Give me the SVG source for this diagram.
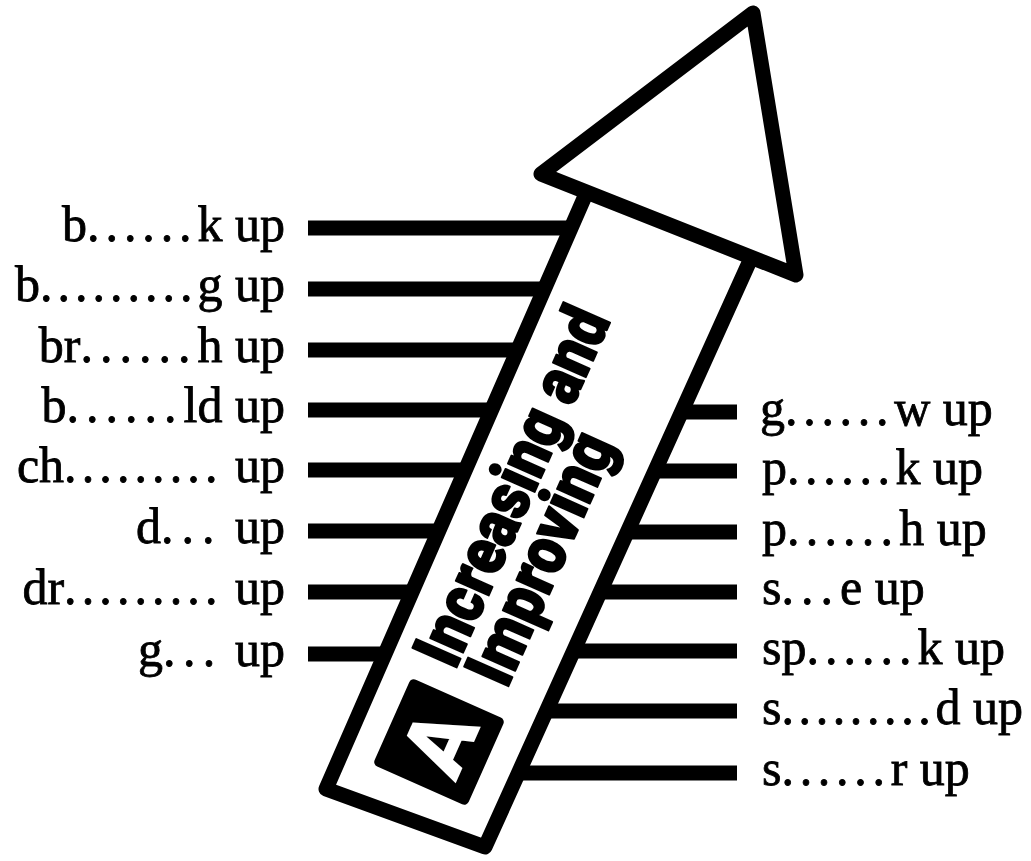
<svg xmlns="http://www.w3.org/2000/svg" width="1031" height="861" viewBox="0 0 1031 861">
<style>
.ln{stroke:#000;stroke-width:15;fill:none;stroke-linecap:butt}
.lbl{font-family:"Liberation Serif","Times New Roman",serif;font-size:50px;fill:#000;stroke:#000;stroke-width:0.8}
.big{font-family:Roboto,"Liberation Sans",Arial,sans-serif;font-weight:900;font-size:68px;fill:#000;stroke:#000;stroke-width:2;stroke-linejoin:round}
.outline{fill:#fff;stroke:#000;stroke-width:15;stroke-linejoin:round}
</style>
<rect width="1031" height="861" fill="#fff"/>
<g id="connectors">
<line class="ln" x1="308" y1="228" x2="585" y2="228"/>
<line class="ln" x1="308" y1="289" x2="558" y2="289"/>
<line class="ln" x1="308" y1="350" x2="531" y2="350"/>
<line class="ln" x1="308" y1="410" x2="505" y2="410"/>
<line class="ln" x1="308" y1="470" x2="479" y2="470"/>
<line class="ln" x1="308" y1="531" x2="453" y2="531"/>
<line class="ln" x1="308" y1="592" x2="427" y2="592"/>
<line class="ln" x1="308" y1="654" x2="400" y2="654"/>
<line class="ln" x1="670" y1="412" x2="737" y2="412"/>
<line class="ln" x1="643" y1="471" x2="737" y2="471"/>
<line class="ln" x1="616" y1="532" x2="737" y2="532"/>
<line class="ln" x1="589" y1="592" x2="737" y2="592"/>
<line class="ln" x1="562" y1="651" x2="737" y2="651"/>
<line class="ln" x1="535" y1="711" x2="737" y2="711"/>
<line class="ln" x1="507" y1="773" x2="737" y2="773"/>
</g>
<g id="arrow">
<polygon class="outline" points="592,180 326,789 485,847 757,245"/>
<g id="title" transform="translate(455,671) rotate(-66)">
<text class="big" x="0" y="0" textLength="384" lengthAdjust="spacingAndGlyphs">Increasing and</text>
<text class="big" x="4" y="55" textLength="268" lengthAdjust="spacingAndGlyphs">Improving</text>
</g>
<g id="badge" transform="translate(439,742) rotate(-66)">
<rect x="-47.5" y="-51.5" width="95" height="103" rx="5" fill="#000"/>
<text x="0" y="32" text-anchor="middle" font-family="Roboto,'Liberation Sans',Arial,sans-serif" font-weight="900" font-size="90" fill="#fff">A</text>
</g>
<polygon class="outline" points="541,174 753,13 796,275"/>
</g>
<g id="label-break"><text class="lbl" x="285" y="241" text-anchor="end">b<tspan letter-spacing="5.9">......</tspan>k up</text></g>
<g id="label-bring"><text class="lbl" x="285" y="301" text-anchor="end">b<tspan letter-spacing="5">.........</tspan>g up</text></g>
<g id="label-brush"><text class="lbl" x="285" y="362" text-anchor="end">br<tspan letter-spacing="7">......</tspan>h up</text></g>
<g id="label-build"><text class="lbl" x="285" y="422" text-anchor="end">b<tspan letter-spacing="7">......</tspan>ld up</text></g>
<g id="label-cheer"><text class="lbl" x="285" y="482" text-anchor="end">ch<tspan letter-spacing="5.1">.........</tspan> up</text></g>
<g id="label-d"><text class="lbl" x="285" y="543" text-anchor="end">d<tspan letter-spacing="8">...</tspan> up</text></g>
<g id="label-dr"><text class="lbl" x="285" y="604" text-anchor="end">dr<tspan letter-spacing="5.1">.........</tspan> up</text></g>
<g id="label-g"><text class="lbl" x="285" y="666" text-anchor="end">g<tspan letter-spacing="7.3">...</tspan> up</text></g>
<g id="label-grow"><text class="lbl" x="760" y="425">g<tspan letter-spacing="5.7">......</tspan>w up</text></g>
<g id="label-perk"><text class="lbl" x="762" y="484">p<tspan letter-spacing="5.6">......</tspan>k up</text></g>
<g id="label-push"><text class="lbl" x="762" y="545">p<tspan letter-spacing="6.2">......</tspan>h up</text></g>
<g id="label-size"><text class="lbl" x="762" y="604">s<tspan letter-spacing="7">...</tspan>e up</text></g>
<g id="label-spark"><text class="lbl" x="762" y="664">sp<tspan letter-spacing="6">......</tspan>k up</text></g>
<g id="label-speed"><text class="lbl" x="762" y="724">s<tspan letter-spacing="4.6">.........</tspan>d up</text></g>
<g id="label-stir"><text class="lbl" x="762" y="785">s<tspan letter-spacing="5.7">......</tspan>r up</text></g>
</svg>
